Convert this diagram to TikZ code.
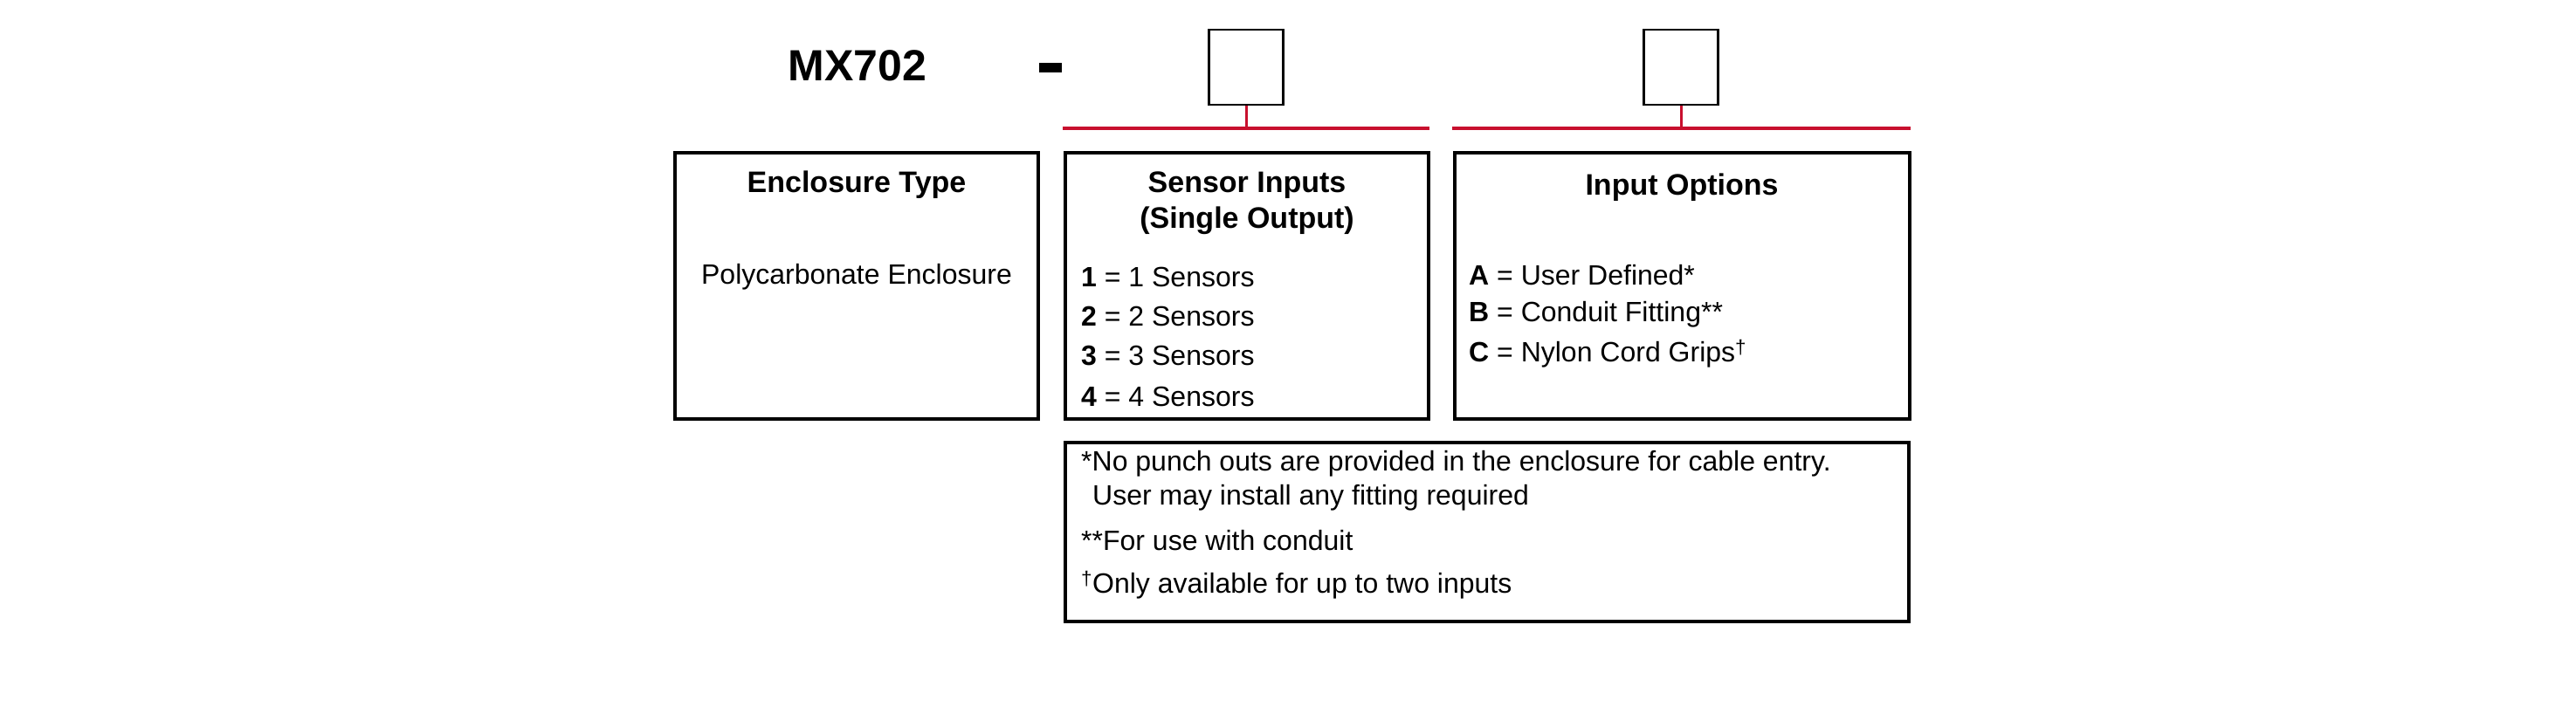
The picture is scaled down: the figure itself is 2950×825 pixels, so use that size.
\documentclass[tikz,border=0pt]{standalone}
\usepackage{fontspec}
\setmainfont{Liberation Sans}
\definecolor{rd}{HTML}{C8102E}
\begin{document}
\begin{tikzpicture}[x=1pt,y=-1pt,
  bx/.style={draw=black,line width=4pt},
  hd/.style={font=\fontsize{34}{40}\selectfont\bfseries,anchor=center},
  tx/.style={font=\fontsize{32}{38}\selectfont,anchor=west,inner sep=0pt},
  rl/.style={draw=rd,line width=4.5pt},
  rv/.style={draw=rd,line width=3pt}]
\useasboundingbox (0,0) rectangle (2950,825);
\node[font=\fontsize{50}{56}\selectfont\bfseries] (mx) at (982,75) {MX702};
\fill (1190,72) rectangle (1216,83);
\node[draw,line width=2.5pt,minimum width=85pt,minimum height=86pt,inner sep=0pt] (b1) at (1427,77) {};
\node[draw,line width=2.5pt,minimum width=85pt,minimum height=86pt,inner sep=0pt] (b2) at (1925,77) {};
\coordinate (l1a) at (1217,147); \coordinate (l1b) at (1637,147);
\coordinate (l2a) at (1663,147); \coordinate (l2b) at (2188,147);
\draw[rl] (l1a) -- (l1b);
\draw[rl] (l2a) -- (l2b);
\draw[rv] (b1.south) -- (b1.south |- l1a);
\draw[rv] (b2.south) -- (b2.south |- l2a);
\draw[bx] (773,175) rectangle (1189,480);
\draw[bx] (1220,175) rectangle (1636,480);
\draw[bx] (1666,175) rectangle (2187,480);
\draw[bx] (1220,507) rectangle (2186,712);
\node[hd] (h1) at (981,212) {Enclosure Type};
\node[hd] (h2a) at (1428,212) {Sensor Inputs};
\node[hd] (h2b) at (1428,253) {(Single Output)};
\node[hd] (h3) at (1926,215) {Input Options};
\node[font=\fontsize{32}{38}\selectfont] (pe) at (981,317) {Polycarbonate Enclosure};
\node[tx] (s1) at (1238,317) {\textbf{1} = 1 Sensors};
\node[tx] (s2) at (1238,362) {\textbf{2} = 2 Sensors};
\node[tx] (s3) at (1238,408) {\textbf{3} = 3 Sensors};
\node[tx] (s4) at (1238,454) {\textbf{4} = 4 Sensors};
\node[tx] (oa) at (1682,315) {\textbf{A} = User Defined*};
\node[tx] (ob) at (1682,360) {\textbf{B} = Conduit Fitting**};
\node[tx] (oc) at (1682,405) {\textbf{C} = Nylon Cord Grips\textsuperscript{†}};
\node[tx] (f1) at (1238,531) {*No punch outs are provided in the enclosure for cable entry.};
\node[tx] (f2) at (1251,570) {User may install any fitting required};
\node[tx] (f3) at (1238,619) {**For use with conduit};
\node[tx] (f4) at (1238,670) {\textsuperscript{†}Only available for up to two inputs};
\end{tikzpicture}
\end{document}
